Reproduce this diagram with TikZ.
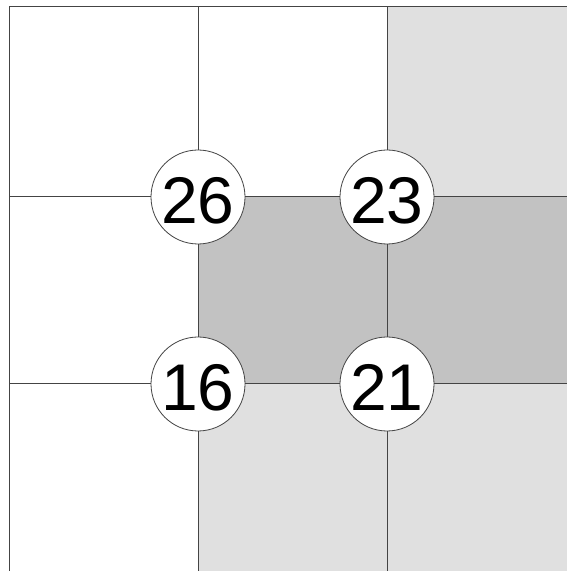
\documentclass[tikz,border=0pt]{standalone}
\usepackage{fontspec}
\setmainfont{Liberation Sans}
\usepackage{xcolor}
\usepackage{tikz}
\usetikzlibrary{
  positioning,
  calc
}
\definecolor{gdLine}{HTML}{444444}
\definecolor{gdLight}{HTML}{E0E0E0}
\definecolor{gdDark}{HTML}{C2C2C2}
\tikzset{
  gridline/.style={draw=gdLine, line width=1pt},
  lightcell/.style={fill=gdLight},
  darkcell/.style={fill=gdDark},
  cornernum/.style={
    draw=gdLine, circle, fill=white, line width=0.8pt, minimum size=94pt,
    inner sep=0pt, font=\fontsize{66}{66}\selectfont,
    text height=53pt, text depth=0pt
  }
}
\begin{document}
\begin{tikzpicture}[x=1pt, y=1pt]
  \useasboundingbox (0,0) rectangle (567,571);
  % shaded cells
  \fill[lightcell] (387,374) rectangle (567,564);
  \fill[darkcell] (198,187) rectangle (567,374);
  \fill[lightcell] (198,0) rectangle (567,187);
  % grid
  \foreach \gx in {9,198,387} {
    \draw[gridline] (\gx,0) -- (\gx,564);
  }
  \foreach \gy in {564,374,187} {
    \draw[gridline] (9,\gy) -- (567,\gy);
  }
  % corner values
  \node[cornernum] (tl) at (198,374) {26};
  \node[cornernum] (tr) at (387,374) {23};
  \node[cornernum] (bl) at (198,187) {16};
  \node[cornernum] (br) at (387,187) {21};
\end{tikzpicture}
\end{document}
